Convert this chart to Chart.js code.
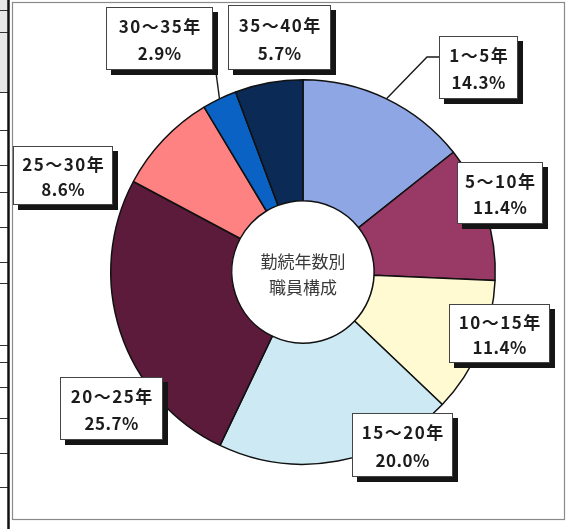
<!DOCTYPE html>
<html lang="ja">
<head>
<meta charset="utf-8">
<title>勤続年数別職員構成</title>
<script src="https://cdn.jsdelivr.net/npm/chart.js@4/dist/chart.umd.min.js"></script>
<style>
  html, body { margin: 0; padding: 0; background: #ffffff; }
  #wrap { width: 568px; height: 529px; }
</style>
</head>
<body>
<div id="wrap"><canvas id="chart" width="568" height="529"></canvas></div>
<script>
// Years-of-service groups and their share of staff (%)
const categories = ['1～5年', '5～10年', '10～15年', '15～20年', '20～25年', '25～30年', '30～35年', '35～40年'];
const shares = [14.3, 11.4, 11.4, 20.0, 25.7, 8.6, 2.9, 5.7];
const centerTitle = ['勤続年数別', '職員構成'];

// Slice fills, in category order
const sliceColors = ['#8ea6e4', '#993a66', '#fffad2', '#cdeaf4', '#5c1b3b', '#ff8282', '#0a62c4', '#0b2a55'];

// Callout boxes: [left, top, width, height] for each category
const boxLayout = [
  [439, 36, 79, 63],
  [457, 162, 86, 62],
  [449, 304, 101, 59],
  [352, 413, 101, 64],
  [60, 377, 103, 63],
  [13, 146, 100, 59],
  [106, 7, 107, 63],
  [228, 5, 103, 65]
];

const FONT = "'Noto Sans CJK JP', 'Noto Sans', sans-serif";

// Page frame and the edge of the neighbouring table
const framePlugin = {
  id: 'frame',
  beforeDraw(chart) {
    const ctx = chart.ctx;
    ctx.save();
    ctx.fillStyle = '#ffffff';
    ctx.fillRect(0, 0, chart.width, chart.height);
    ctx.fillStyle = '#e6e6e6';
    ctx.fillRect(0, 0, 8, 92);
    ctx.strokeStyle = '#333333';
    ctx.lineWidth = 1;
    [10, 32, 92, 130, 165, 192, 227, 262, 283, 345, 362, 387, 418, 453, 487].forEach(y => {
      ctx.beginPath();
      ctx.moveTo(0, y + 0.5);
      ctx.lineTo(8, y + 0.5);
      ctx.stroke();
    });
    ctx.strokeStyle = '#111111';
    ctx.lineWidth = 2.5;
    ctx.beginPath();
    ctx.moveTo(8.5, 0);
    ctx.lineTo(8.5, 529);
    ctx.stroke();
    ctx.strokeStyle = '#8a8a8a';
    ctx.lineWidth = 1.2;
    ctx.strokeRect(12.5, 2.5, 552, 517);
    ctx.restore();
  }
};

// Leader lines, callout boxes and the centre caption
const calloutPlugin = {
  id: 'callouts',
  afterDatasetsDraw(chart) {
    const ctx = chart.ctx;
    const arcs = chart.getDatasetMeta(0).data;
    const edgePoint = (i) => {
      const a = arcs[i];
      const mid = (a.startAngle + a.endAngle) / 2;
      return [a.x + a.outerRadius * Math.cos(mid), a.y + a.outerRadius * Math.sin(mid)];
    };
    ctx.save();
    ctx.strokeStyle = '#1a1a1a';
    ctx.lineWidth = 1.4;

    // 1～5年: elbow leader from the box's left side
    const b0 = boxLayout[0];
    const p0 = edgePoint(0);
    ctx.beginPath();
    ctx.moveTo(b0[0], b0[1] + b0[3] / 3);
    ctx.lineTo(b0[0] - 12, b0[1] + b0[3] / 3);
    ctx.lineTo(p0[0], p0[1]);
    ctx.stroke();

    // 30～35年: leader from the box's right side
    const b6 = boxLayout[6];
    const p6 = edgePoint(6);
    ctx.beginPath();
    ctx.moveTo(b6[0] + b6[2], b6[1] + b6[3] * 0.68);
    ctx.lineTo(p6[0], p6[1]);
    ctx.stroke();

    // Callout boxes with drop shadows
    const spacing = 1.5;
    boxLayout.forEach((b, i) => {
      const [x, y, w, h] = b;
      ctx.fillStyle = '#151515';
      ctx.fillRect(x + 5, y + 5, w, h);
      ctx.fillStyle = '#ffffff';
      ctx.fillRect(x, y, w, h);
      ctx.strokeStyle = '#444444';
      ctx.lineWidth = 1;
      ctx.strokeRect(x + 0.5, y + 0.5, w - 1, h - 1);
      ctx.fillStyle = '#1c1c1c';
      ctx.textAlign = 'center';
      ctx.textBaseline = 'middle';
      ctx.font = 'bold 17px ' + FONT;
      ctx.letterSpacing = spacing + 'px';
      ctx.fillText(categories[i], x + w / 2 + spacing / 2, y + h * 0.31);
      ctx.letterSpacing = '0.5px';
      ctx.fillText(shares[i].toFixed(1) + '%', x + w / 2 + 0.25, y + h * 0.74);
    });
    ctx.letterSpacing = '0px';

    // Caption inside the ring
    const a = arcs[0];
    ctx.fillStyle = '#3a3a3a';
    ctx.font = '17px ' + FONT;
    ctx.textAlign = 'center';
    ctx.textBaseline = 'middle';
    ctx.fillText(centerTitle[0], a.x, a.y - 10);
    ctx.fillText(centerTitle[1], a.x, a.y + 16);
    ctx.restore();
  }
};

new Chart(document.getElementById('chart'), {
  type: 'doughnut',
  data: {
    labels: categories,
    datasets: [{
      data: shares,
      backgroundColor: sliceColors,
      borderColor: '#111111',
      borderWidth: 1.5,
      borderAlign: 'center'
    }]
  },
  options: {
    responsive: false,
    animation: false,
    cutout: '37%',
    layout: { padding: { left: 110, right: 72, top: 79, bottom: 64 } },
    plugins: {
      legend: { display: false },
      tooltip: { enabled: false }
    }
  },
  plugins: [framePlugin, calloutPlugin]
});
</script>
</body>
</html>
